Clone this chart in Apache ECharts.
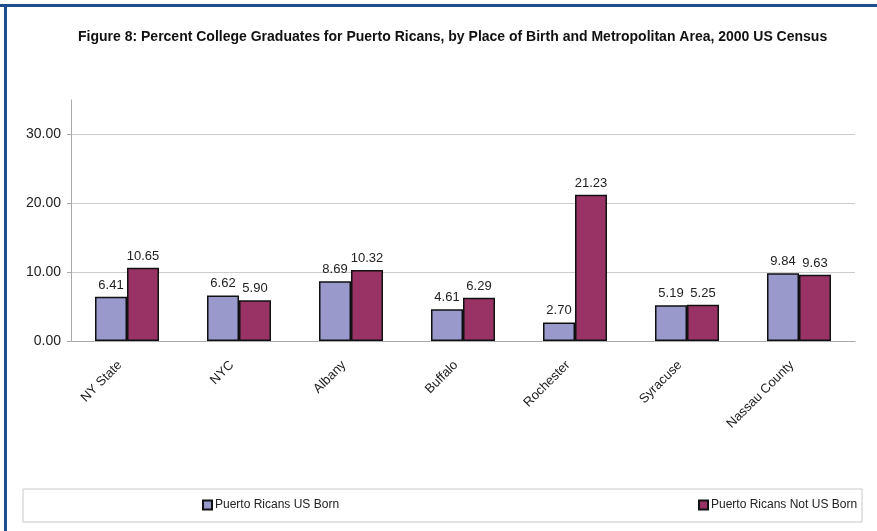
<!DOCTYPE html>
<html>
<head>
<meta charset="utf-8">
<script src="https://cdn.jsdelivr.net/npm/echarts@6/dist/echarts.min.js"></script>
<style>
  html, body { margin: 0; padding: 0; background: #fff; }
  #chart { width: 877px; height: 531px; }
</style>
</head>
<body>
<div id="chart"></div>
<script>
  var categories = ['NY State', 'NYC', 'Albany', 'Buffalo', 'Rochester', 'Syracuse', 'Nassau County'];
  var usBorn = [6.41, 6.62, 8.69, 4.61, 2.70, 5.19, 9.84];
  var notUsBorn = [10.65, 5.90, 10.32, 6.29, 21.23, 5.25, 9.63];
  var seriesNames = ['Puerto Ricans US Born', 'Puerto Ricans Not US Born'];

  var font = 'Liberation Sans, Arial, sans-serif';
  var chart = echarts.init(document.getElementById('chart'));

  chart.setOption({
    backgroundColor: '#ffffff',
    animation: false,
    title: {
      text: 'Figure 8: Percent College Graduates for Puerto Ricans, by Place of Birth and Metropolitan Area, 2000 US Census',
      left: 78,
      top: 30,
      padding: 0,
      textStyle: {
        fontFamily: font,
        fontSize: 14,
        fontWeight: 'bold',
        color: '#111'
      }
    },
    // 图例
    legend: [{
      data: [seriesNames[0]],
      left: 202,
      top: 499,
      icon: 'rect',
      itemWidth: 9,
      itemHeight: 9,
      padding: 0,
      textStyle: { fontFamily: font, fontSize: 12, color: '#222', padding: [0, 0, 0, -2] }
    }, {
      data: [seriesNames[1]],
      left: 698,
      top: 499,
      icon: 'rect',
      itemWidth: 9,
      itemHeight: 9,
      padding: 0,
      textStyle: { fontFamily: font, fontSize: 12, color: '#222', padding: [0, 0, 0, -2] }
    }],
    graphic: [
      { type: 'rect', shape: { x: 23, y: 489, width: 839, height: 33 },
        style: { fill: 'none', stroke: '#c8c8c8', lineWidth: 1 }, z: -1 },
      { type: 'rect', shape: { x: 0, y: 4, width: 877, height: 3 },
        style: { fill: '#1f4e8c' } },
      { type: 'rect', shape: { x: 4, y: 4, width: 3, height: 527 },
        style: { fill: '#1f4e8c' } }
    ],
    // 表格
    grid: {
      left: 71,
      right: 22,
      top: 100,
      bottom: 190,
      containLabel: false
    },
    xAxis: {
      type: 'category',
      data: categories,
      axisLine: { lineStyle: { color: '#aaaaaa' } },
      axisTick: { length: 4, lineStyle: { color: '#aaaaaa' } },
      axisLabel: {
        rotate: 45,
        interval: 0,
        margin: 15,
        padding: [0, 10, 0, 0],
        fontFamily: font,
        fontSize: 13,
        color: '#222'
      }
    },
    yAxis: {
      type: 'value',
      min: 0,
      max: 35,
      interval: 10,
      axisLine: { show: true, lineStyle: { color: '#aaaaaa' } },
      axisTick: { show: true, length: 4, lineStyle: { color: '#aaaaaa' } },
      axisLabel: {
        showMaxLabel: false,
        margin: 10,
        fontFamily: font,
        fontSize: 14,
        color: '#222',
        formatter: function (v) { return v.toFixed(2); }
      },
      splitLine: {
        lineStyle: {
          color: ['#cccccc', '#cccccc', '#cccccc', '#cccccc', 'rgba(0,0,0,0)']
        }
      }
    },
    series: [{
      name: seriesNames[0],
      type: 'bar',
      data: usBorn,
      barWidth: 32,
      barGap: '0%',
      itemStyle: { color: '#9999cc', borderColor: '#111', borderWidth: 1.5 },
      label: {
        show: true,
        position: 'top',
        distance: 5,
        fontFamily: font,
        fontSize: 13,
        color: '#222',
        formatter: function (p) { return p.value.toFixed(2); }
      }
    }, {
      name: seriesNames[1],
      type: 'bar',
      data: notUsBorn,
      barWidth: 32,
      itemStyle: { color: '#993366', borderColor: '#111', borderWidth: 1.5 },
      label: {
        show: true,
        position: 'top',
        distance: 5,
        fontFamily: font,
        fontSize: 13,
        color: '#222',
        formatter: function (p) { return p.value.toFixed(2); }
      }
    }]
  });
</script>
</body>
</html>
